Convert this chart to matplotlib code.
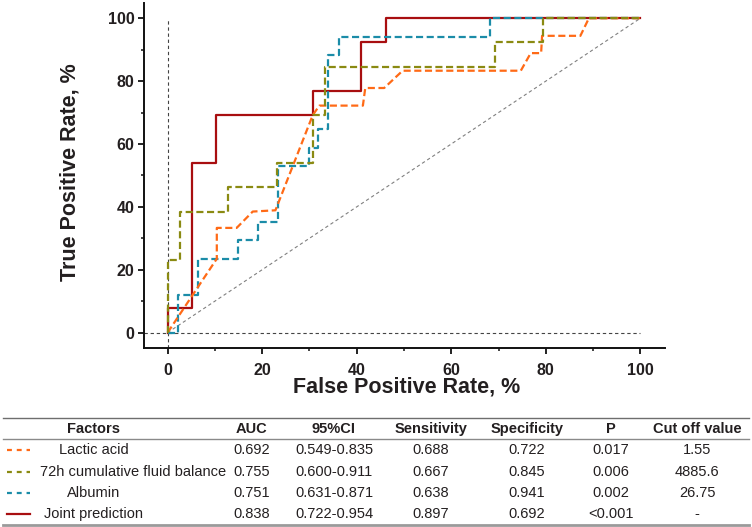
import numpy as np
import matplotlib.pyplot as plt
from matplotlib.lines import Line2D
from matplotlib.ticker import MultipleLocator

#-------------------------------------------------------------------------------------------------

plt.rcParams['font.family'] = ['Liberation Sans', 'DejaVu Sans']

# ROC curves, in %
lactic_fpr = [0, 10.4, 10.4, 14.6, 18.0, 22.8, 30.7, 32.1, 41.3, 41.8, 45.8, 49.7, 74.7, 76.8, 79.0, 79.2, 87.3, 89.1, 100]
lactic_tpr = [0, 23.5, 33.3, 33.3, 38.5, 38.9, 69.2, 72.2, 72.2, 77.8, 77.8, 83.3, 83.3, 88.9, 88.9, 94.4, 94.4, 100, 100]

fluid_fpr = [0, 0, 2.6, 2.6, 12.8, 12.8, 23.1, 23.1, 30.8, 30.8, 33.3, 33.3, 69.2, 69.2, 79.5, 79.5, 100]
fluid_tpr = [0, 23.1, 23.1, 38.5, 38.5, 46.2, 46.2, 53.8, 53.8, 69.2, 69.2, 84.6, 84.6, 92.3, 92.3, 100, 100]

albumin_fpr = [0, 2.1, 2.1, 6.4, 6.4, 14.9, 14.9, 19.1, 19.1, 23.4, 23.4, 29.8, 29.8, 31.9, 31.9, 34.0, 34.0, 36.2, 36.2, 68.1, 68.1, 100]
albumin_tpr = [0, 0, 11.8, 11.8, 23.5, 23.5, 29.4, 29.4, 35.3, 35.3, 52.9, 52.9, 58.8, 58.8, 64.7, 64.7, 88.2, 88.2, 94.1, 94.1, 100, 100]

joint_fpr = [0, 0, 5.1, 5.1, 10.3, 10.3, 30.8, 30.8, 41.0, 41.0, 46.2, 46.2, 100]
joint_tpr = [0, 7.7, 7.7, 53.8, 53.8, 69.2, 69.2, 76.9, 76.9, 92.3, 92.3, 100, 100]

# table
factors = ["Lactic acid", "72h cumulative fluid balance", "Albumin", "Joint prediction"]
auc = ["0.692", "0.755", "0.751", "0.838"]
ci95 = ["0.549-0.835", "0.600-0.911", "0.631-0.871", "0.722-0.954"]
sensitivity = ["0.688", "0.667", "0.638", "0.897"]
specificity = ["0.722", "0.845", "0.941", "0.692"]
pvals = ["0.017", "0.006", "0.002", "<0.001"]
cutoff = ["1.55", "4885.6", "26.75", "-"]
headers = ["Factors", "AUC", "95%CI", "Sensitivity", "Specificity", "P", "Cut off value"]

colorList = ["#FF6A16", "#8A8A12", "#1B8CA8", "#A80E10"]
dashed = (0, (3.2, 1.6))

#-------------------------------------------------------------------------------------------------

W, H = 752, 527
fig = plt.figure(figsize=(W / 100, H / 100), dpi=100)
ax = fig.add_axes([144 / W, 1 - 348.3 / H, (665 - 144) / W, (348.3 - 2.5) / H])

# reference lines
ax.plot([0, 100], [0, 100], color="#808080", lw=0.8, ls=(0, (3, 2.5)))
ax.plot([-5, 100], [0, 0], color="#444444", lw=0.8, ls=(0, (3, 2.5)))
ax.plot([0, 0], [-5, 100], color="#444444", lw=0.8, ls=(0, (3, 2.5)))

ax.plot(joint_fpr, joint_tpr, color=colorList[3], lw=1.6)
ax.plot(albumin_fpr, albumin_tpr, color=colorList[2], lw=1.6, ls=dashed)
ax.plot(lactic_fpr, lactic_tpr, color=colorList[0], lw=1.6, ls=dashed)
ax.plot(fluid_fpr, fluid_tpr, color=colorList[1], lw=1.6, ls=dashed)

ax.set_xlim(-5, 105.2)
ax.set_ylim(-5, 105)
ax.spines['top'].set_visible(False)
ax.spines['right'].set_visible(False)
for s in ['left', 'bottom']:
	ax.spines[s].set_linewidth(1.4)
	ax.spines[s].set_color("#111111")

ax.xaxis.set_major_locator(MultipleLocator(20))
ax.xaxis.set_minor_locator(MultipleLocator(10))
ax.yaxis.set_major_locator(MultipleLocator(20))
ax.yaxis.set_minor_locator(MultipleLocator(10))
ax.tick_params(which='major', length=4.5, width=1.3, color="#111111", labelsize=11.5)
ax.tick_params(which='minor', length=2.5, width=1.1, color="#111111")
ax.tick_params(axis='x', which='major', pad=6)
ax.tick_params(axis='y', which='major', pad=2.5)
for lab in ax.get_xticklabels() + ax.get_yticklabels():
	lab.set_fontweight('bold')
	lab.set_color("#231f20")

fig.text(295 / W + 112 / W, 1 - 387 / H, "False Positive Rate, %", ha='center', va='center',
	fontsize=15.5, fontweight='bold', color="#231f20")
fig.text(70 / W, 1 - 172 / H, "True Positive Rate, %", ha='center', va='center', rotation=90,
	fontsize=15.5, fontweight='bold', color="#231f20")

#-------------------------------------------------------------------------------------------------
# table under the plot

def fy(y):
	return 1 - y / H

def hline(y, color, lw):
	fig.add_artist(Line2D([3 / W, 749 / W], [fy(y), fy(y)], color=color, lw=lw, transform=fig.transFigure))

hline(417.7, "#6e6e6e", 1.0)
hline(439, "#8a8a8a", 1.0)
hline(525, "#9a9a9a", 2.0)

col_x = [94, 252, 334, 431, 527, 611, 697]
header_y = 429
row_y = [450, 471.7, 493.3, 514.3]

for x, h in zip(col_x, headers):
	fig.text(x / W, fy(header_y), h, ha='center', va='center', fontsize=10.5, fontweight='bold', color="#231f20")

columns = [factors, auc, ci95, sensitivity, specificity, pvals, cutoff]
for i in range(len(factors)):
	for j, col in enumerate(columns):
		x = col_x[j]
		if j == 0 and i == 1:
			x = 133
		fig.text(x / W, fy(row_y[i]), col[i], ha='center', va='center', fontsize=10.5, color="#231f20")
	ls = '-' if i == 3 else (0, (2.2, 2.2))
	fig.add_artist(Line2D([7 / W, 30 / W], [fy(row_y[i]), fy(row_y[i])], color=colorList[i], lw=1.6,
		ls=ls, transform=fig.transFigure))

plt.savefig('out.png', dpi=100)
